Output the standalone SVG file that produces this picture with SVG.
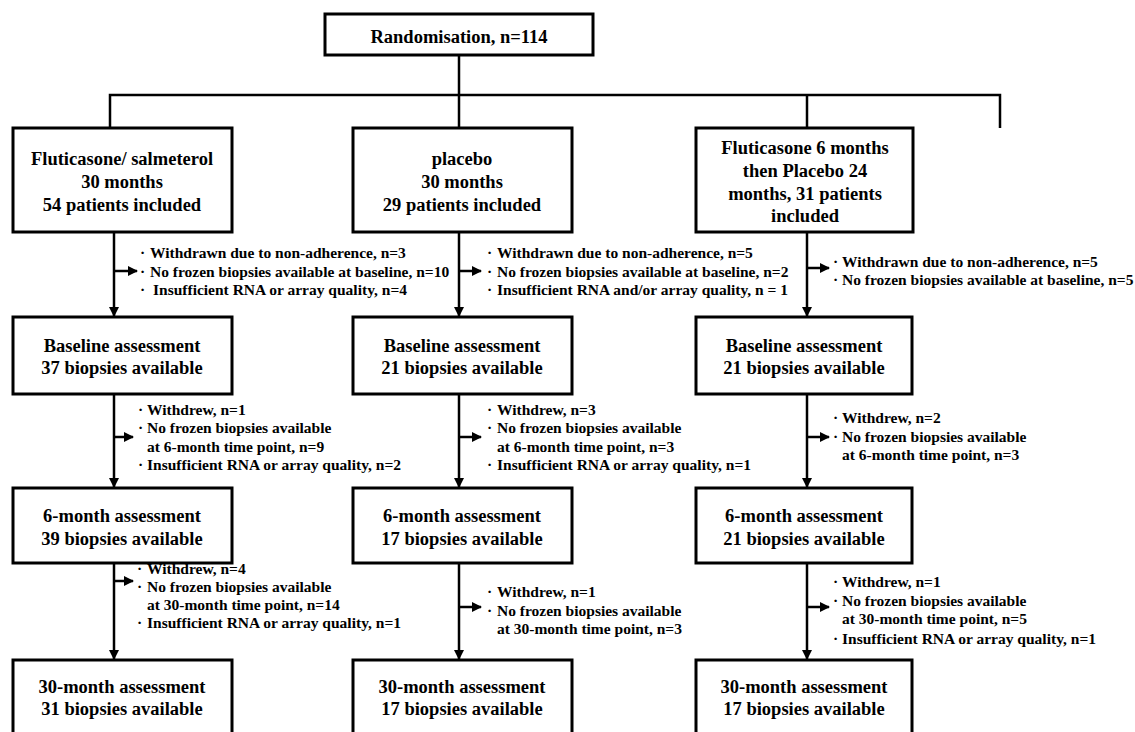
<svg xmlns="http://www.w3.org/2000/svg" width="1135" height="732" viewBox="0 0 1135 732">
<style>
.box{fill:#fff;stroke:#000;stroke-width:3}
.t{font-family:"Liberation Serif","Times New Roman",serif;font-weight:bold;font-size:18.5px;text-anchor:middle;fill:#000}
.e{font-family:"Liberation Serif","Times New Roman",serif;font-weight:bold;font-size:15.5px;fill:#000}
.ln{fill:none;stroke:#000;stroke-width:2.5}
</style>
<defs>
<marker id="ah" viewBox="0 0 10 10" refX="9" refY="5" markerWidth="4" markerHeight="4" orient="auto" markerUnits="strokeWidth">
<path d="M0,0 L10,5 L0,10 Z" fill="#000"/>
</marker>
</defs>
<rect width="1135" height="732" fill="#fff"/>
<g id="connectors">
<path class="ln" d="M459,55 V128"/>
<path class="ln" d="M110,128 V95 H1000 V128"/>
<path class="ln" d="M807,95 V128"/>
<path class="ln" d="M114,232 V316" marker-end="url(#ah)"/>
<path class="ln" d="M114,394 V487" marker-end="url(#ah)"/>
<path class="ln" d="M114,563 V659" marker-end="url(#ah)"/>
<path class="ln" d="M459,232 V316" marker-end="url(#ah)"/>
<path class="ln" d="M459,394 V487" marker-end="url(#ah)"/>
<path class="ln" d="M459,563 V659" marker-end="url(#ah)"/>
<path class="ln" d="M807,232 V316" marker-end="url(#ah)"/>
<path class="ln" d="M807,394 V487" marker-end="url(#ah)"/>
<path class="ln" d="M807,563 V659" marker-end="url(#ah)"/>
<path class="ln" d="M114,271 H137" marker-end="url(#ah)"/>
<path class="ln" d="M114,437 H133" marker-end="url(#ah)"/>
<path class="ln" d="M114,581 H133" marker-end="url(#ah)"/>
<path class="ln" d="M459,271 H481" marker-end="url(#ah)"/>
<path class="ln" d="M459,437 H481" marker-end="url(#ah)"/>
<path class="ln" d="M459,607 H481" marker-end="url(#ah)"/>
<path class="ln" d="M807,268 H829" marker-end="url(#ah)"/>
<path class="ln" d="M807,437 H829" marker-end="url(#ah)"/>
<path class="ln" d="M807,607 H829" marker-end="url(#ah)"/>
</g>
<g id="randomisation">
<rect class="box" x="325" y="14" width="268" height="41"/>
<text class="t" x="459" y="43">Randomisation, n=114</text>
</g>
<g id="arm1">
<rect class="box" x="13" y="128" width="219" height="104"/>
<text class="t" x="122" y="165">Fluticasone/ salmeterol</text>
<text class="t" x="122" y="188">30 months</text>
<text class="t" x="122" y="211">54 patients included</text>
</g>
<g id="arm2">
<rect class="box" x="353" y="128" width="219" height="104"/>
<text class="t" x="462" y="165">placebo</text>
<text class="t" x="462" y="188">30 months</text>
<text class="t" x="462" y="211">29 patients included</text>
</g>
<g id="arm3">
<rect class="box" x="696" y="128" width="217" height="104"/>
<text class="t" x="805" y="154">Fluticasone 6 months</text>
<text class="t" x="805" y="177">then Placebo 24</text>
<text class="t" x="805" y="200">months, 31 patients</text>
<text class="t" x="805" y="222">included</text>
</g>
<g id="excl1a">
<text class="e" x="140" y="258">·</text><text class="e" x="150" y="258">Withdrawn due to non-adherence, n=3</text>
<text class="e" x="140" y="277">·</text><text class="e" x="150" y="277">No frozen biopsies available at baseline, n=10</text>
<text class="e" x="140" y="295">·</text><text class="e" x="153" y="295">Insufficient RNA or array quality, n=4</text>
</g>
<g id="excl2a">
<text class="e" x="487" y="258">·</text><text class="e" x="497" y="258">Withdrawn due to non-adherence, n=5</text>
<text class="e" x="487" y="277">·</text><text class="e" x="497" y="277">No frozen biopsies available at baseline, n=2</text>
<text class="e" x="487" y="295">·</text><text class="e" x="497" y="295">Insufficient RNA and/or array quality, n = 1</text>
</g>
<g id="excl3a">
<text class="e" x="833" y="267">·</text><text class="e" x="842" y="267">Withdrawn due to non-adherence, n=5</text>
<text class="e" x="833" y="285">·</text><text class="e" x="842" y="285">No frozen biopsies available at baseline, n=5</text>
</g>
<g id="base1">
<rect class="box" x="13" y="317" width="219" height="77"/>
<text class="t" x="122" y="352">Baseline assessment</text>
<text class="t" x="122" y="374">37 biopsies available</text>
</g>
<g id="base2">
<rect class="box" x="353" y="317" width="219" height="77"/>
<text class="t" x="462" y="352">Baseline assessment</text>
<text class="t" x="462" y="374">21 biopsies available</text>
</g>
<g id="base3">
<rect class="box" x="696" y="317" width="216" height="77"/>
<text class="t" x="804" y="352">Baseline assessment</text>
<text class="t" x="804" y="374">21 biopsies available</text>
</g>
<g id="excl1b">
<text class="e" x="138" y="415">·</text><text class="e" x="147" y="415">Withdrew, n=1</text>
<text class="e" x="138" y="433">·</text><text class="e" x="147" y="433">No frozen biopsies available</text>
<text class="e" x="147" y="452">at 6-month time point, n=9</text>
<text class="e" x="138" y="470">·</text><text class="e" x="147" y="470">Insufficient RNA or array quality, n=2</text>
</g>
<g id="excl2b">
<text class="e" x="487" y="415">·</text><text class="e" x="497" y="415">Withdrew, n=3</text>
<text class="e" x="487" y="433">·</text><text class="e" x="497" y="433">No frozen biopsies available</text>
<text class="e" x="497" y="452">at 6-month time point, n=3</text>
<text class="e" x="487" y="470">·</text><text class="e" x="497" y="470">Insufficient RNA or array quality, n=1</text>
</g>
<g id="excl3b">
<text class="e" x="833" y="423">·</text><text class="e" x="842" y="423">Withdrew, n=2</text>
<text class="e" x="833" y="442">·</text><text class="e" x="842" y="442">No frozen biopsies available</text>
<text class="e" x="842" y="460">at 6-month time point, n=3</text>
</g>
<g id="six1">
<rect class="box" x="13" y="488" width="219" height="75"/>
<text class="t" x="122" y="522">6-month assessment</text>
<text class="t" x="122" y="545">39 biopsies available</text>
</g>
<g id="six2">
<rect class="box" x="353" y="488" width="219" height="75"/>
<text class="t" x="462" y="522">6-month assessment</text>
<text class="t" x="462" y="545">17 biopsies available</text>
</g>
<g id="six3">
<rect class="box" x="696" y="488" width="216" height="75"/>
<text class="t" x="804" y="522">6-month assessment</text>
<text class="t" x="804" y="545">21 biopsies available</text>
</g>
<g id="excl1c">
<text class="e" x="137" y="574">·</text><text class="e" x="147" y="574">Withdrew, n=4</text>
<text class="e" x="137" y="592">·</text><text class="e" x="147" y="592">No frozen biopsies available</text>
<text class="e" x="147" y="610">at 30-month time point, n=14</text>
<text class="e" x="137" y="628">·</text><text class="e" x="147" y="628">Insufficient RNA or array quality, n=1</text>
</g>
<g id="excl2c">
<text class="e" x="487" y="597">·</text><text class="e" x="497" y="597">Withdrew, n=1</text>
<text class="e" x="487" y="616">·</text><text class="e" x="497" y="616">No frozen biopsies available</text>
<text class="e" x="497" y="634">at 30-month time point, n=3</text>
</g>
<g id="excl3c">
<text class="e" x="833" y="587">·</text><text class="e" x="842" y="587">Withdrew, n=1</text>
<text class="e" x="833" y="606">·</text><text class="e" x="842" y="606">No frozen biopsies available</text>
<text class="e" x="842" y="624">at 30-month time point, n=5</text>
<text class="e" x="833" y="644">·</text><text class="e" x="842" y="644">Insufficient RNA or array quality, n=1</text>
</g>
<g id="thirty1">
<rect class="box" x="13" y="660" width="219" height="90"/>
<text class="t" x="122" y="693">30-month assessment</text>
<text class="t" x="122" y="715">31 biopsies available</text>
</g>
<g id="thirty2">
<rect class="box" x="353" y="660" width="219" height="90"/>
<text class="t" x="462" y="693">30-month assessment</text>
<text class="t" x="462" y="715">17 biopsies available</text>
</g>
<g id="thirty3">
<rect class="box" x="696" y="660" width="216" height="90"/>
<text class="t" x="804" y="693">30-month assessment</text>
<text class="t" x="804" y="715">17 biopsies available</text>
</g>
</svg>
